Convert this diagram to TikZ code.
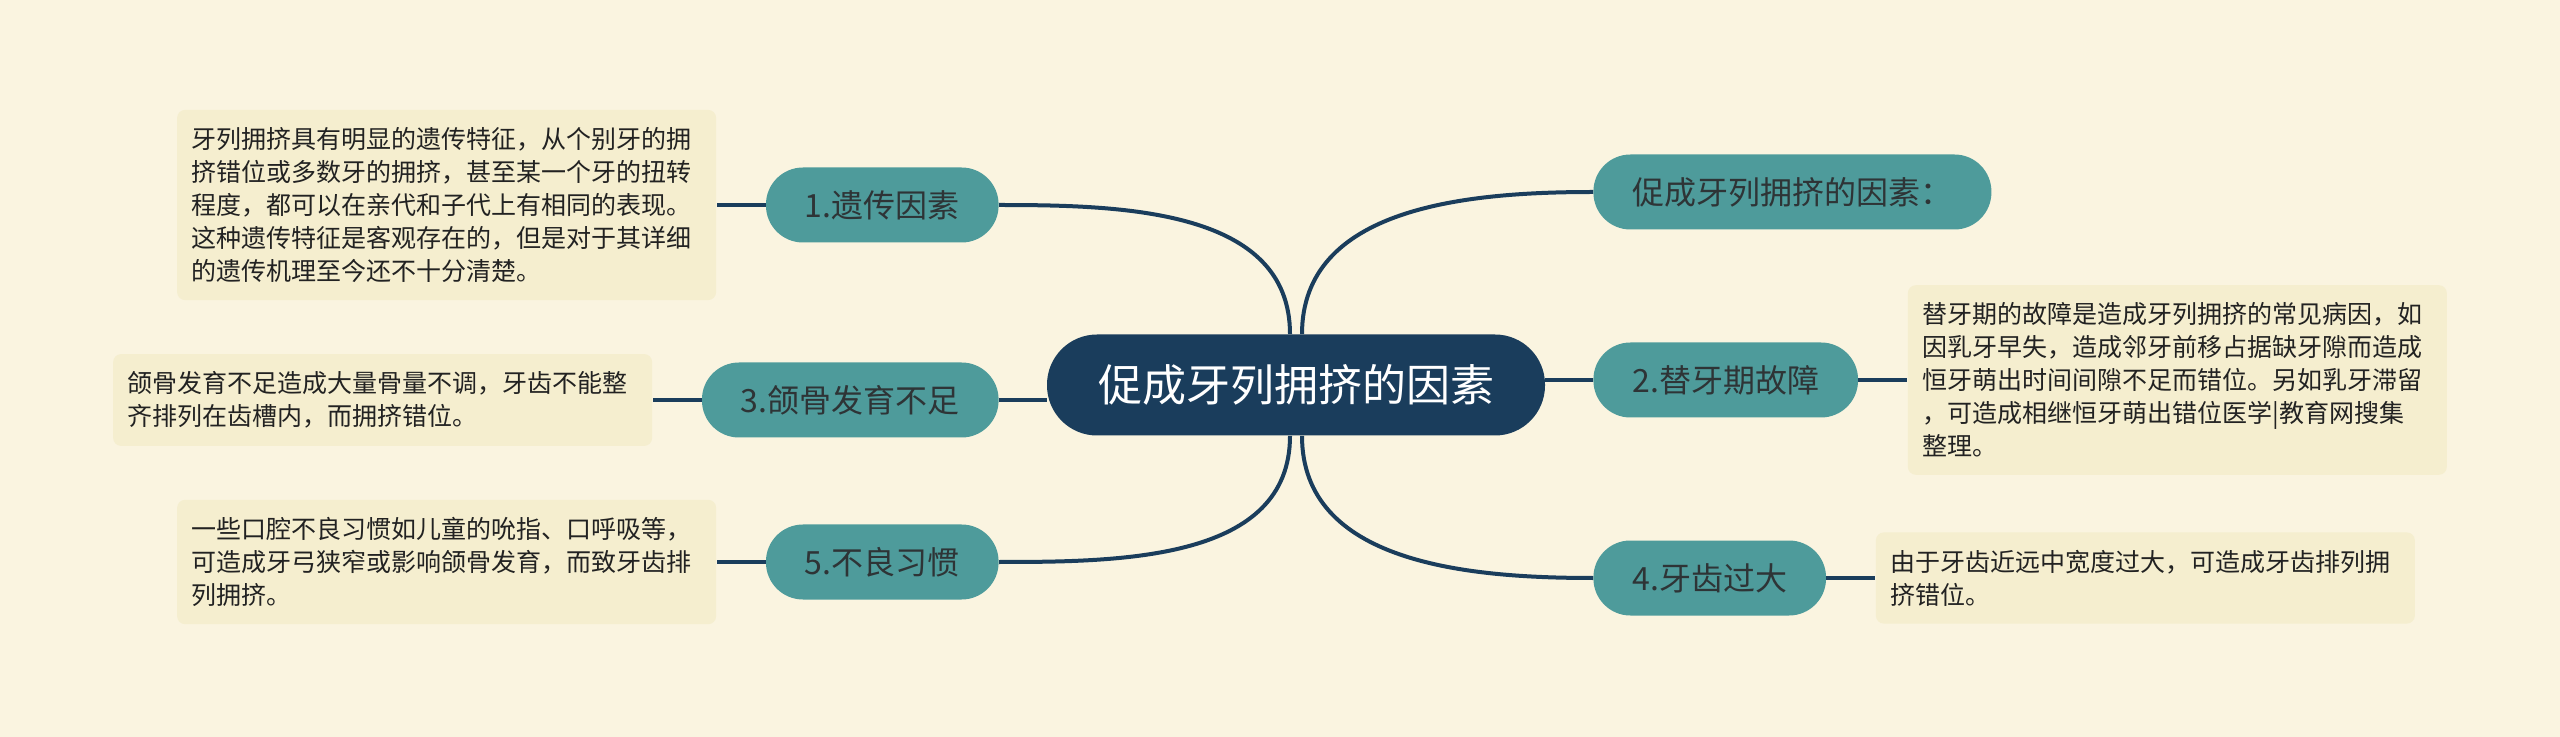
\documentclass[tikz,border=0pt]{standalone}
\usepackage{fontspec}
\setmainfont{Noto Sans CJK SC}
\usetikzlibrary{
    positioning % For placing the note boxes beside their branches
}
\definecolor{bg_cream}{HTML}{FAF4E0}
\definecolor{root_navy}{HTML}{1A3D5C}
\definecolor{branch_teal}{HTML}{4E9B9B}
\definecolor{branch_text}{HTML}{2E3436}
\definecolor{note_fill}{HTML}{F5EECF}
\definecolor{note_text}{HTML}{222222}

\begin{document}
\begin{tikzpicture}[
    x=0.5pt, y=-0.5pt,
    % Style for the central topic
    root_style/.style={
        fill=root_navy,
        text=white,
        font=\fontsize{22}{26}\selectfont,
        rounded corners=25pt,
        minimum height=50.5pt,
        inner xsep=25.5pt
    },
    % Style for the six main branches
    branch_style/.style={
        fill=branch_teal,
        text=branch_text,
        font=\fontsize{16}{19}\selectfont,
        rounded corners=18.5pt,
        minimum height=37.5pt,
        inner xsep=19.5pt
    },
    % Style for the explanation boxes
    note_style/.style={
        fill=note_fill,
        text=note_text,
        font=\fontsize{12.5}{16.5}\selectfont,
        rounded corners=4pt,
        text width=255pt,
        inner xsep=7.25pt,
        inner ysep=8.75pt,
        align=left
    },
    % Style for the connecting lines
    link_style/.style={
        draw=root_navy,
        line width=2pt
    }
]
    \useasboundingbox[fill=bg_cream] (0,0) rectangle (2560,737);

    % 1. The central topic and its six branches.
    \node[root_style] (root) at (1296,385) {促成牙列拥挤的因素};

    \node[branch_style, anchor=east] (heredity) at (999,205) {1.遗传因素};
    \node[branch_style, anchor=east] (jaw_bone) at (999,400) {3.颌骨发育不足};
    \node[branch_style, anchor=east] (habits) at (999,562) {5.不良习惯};
    \node[branch_style, anchor=west] (factors_title) at (1593,192) {促成牙列拥挤的因素：};
    \node[branch_style, anchor=west] (tooth_change) at (1593,380) {2.替牙期故障};
    \node[branch_style, anchor=west] (tooth_size) at (1593,578) {4.牙齿过大};

    % 2. The explanation boxes, placed beside their branches.
    \node[note_style, left=24.5pt of heredity] (heredity_note) {牙列拥挤具有明显的遗传特征，从个别牙的拥\\挤错位或多数牙的拥挤，甚至某一个牙的扭转\\程度，都可以在亲代和子代上有相同的表现。\\这种遗传特征是客观存在的，但是对于其详细\\的遗传机理至今还不十分清楚。};
    \node[note_style, left=24.5pt of jaw_bone] (jaw_bone_note) {颌骨发育不足造成大量骨量不调，牙齿不能整\\齐排列在齿槽内，而拥挤错位。};
    \node[note_style, left=24.5pt of habits] (habits_note) {一些口腔不良习惯如儿童的吮指、口呼吸等，\\可造成牙弓狭窄或影响颌骨发育，而致牙齿排\\列拥挤。};
    \node[note_style, right=24.5pt of tooth_change] (tooth_change_note) {替牙期的故障是造成牙列拥挤的常见病因，如\\因乳牙早失，造成邻牙前移占据缺牙隙而造成\\恒牙萌出时间间隙不足而错位。另如乳牙滞留\\，可造成相继恒牙萌出错位医学|教育网搜集\\整理。};
    \node[note_style, right=24.5pt of tooth_size] (tooth_size_note) {由于牙齿近远中宽度过大，可造成牙齿排列拥\\挤错位。};

    % 3. Links from the central topic to the branches.
    \draw[link_style] ([xshift=-3pt]root.north) to[out=90, in=0] (heredity.east);
    \draw[link_style] (root.west |- jaw_bone.east) -- (jaw_bone.east);
    \draw[link_style] ([xshift=-3pt]root.south) to[out=-90, in=0] (habits.east);
    \draw[link_style] ([xshift=3pt]root.north) to[out=90, in=180] (factors_title.west);
    \draw[link_style] (root.east |- tooth_change.west) -- (tooth_change.west);
    \draw[link_style] ([xshift=3pt]root.south) to[out=-90, in=180] (tooth_size.west);

    % 4. Short links from the branches to their boxes.
    \draw[link_style] (heredity.west) -- (heredity_note.east);
    \draw[link_style] (jaw_bone.west) -- (jaw_bone_note.east);
    \draw[link_style] (habits.west) -- (habits_note.east);
    \draw[link_style] (tooth_change.east) -- (tooth_change_note.west);
    \draw[link_style] (tooth_size.east) -- (tooth_size_note.west);

\end{tikzpicture}
\end{document}
